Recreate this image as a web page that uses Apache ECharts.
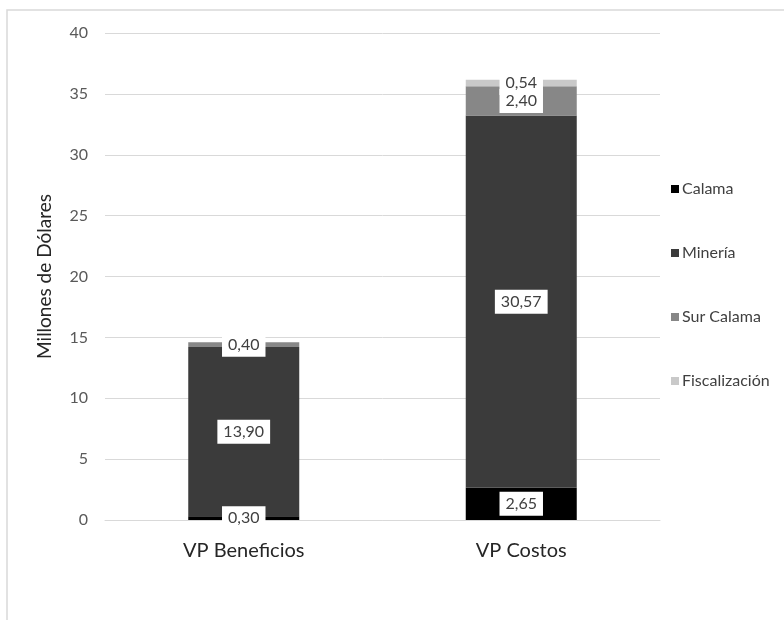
<!DOCTYPE html>
<html>
<head>
<meta charset="utf-8">
<script src="https://cdn.jsdelivr.net/npm/echarts@6/dist/echarts.min.js"></script>
<style>
html,body{margin:0;padding:0;background:#fff;}
#chart{width:784px;height:620px;}
</style>
</head>
<body>
<div id="chart"></div>
<script>
const categories = ['VP Beneficios', 'VP Costos'];
const seriesNames = ['Calama', 'Minería', 'Sur Calama', 'Fiscalización'];
const calama = [0.30, 2.65];
const mineria = [13.90, 30.57];
const surCalama = [0.40, 2.40];
const fiscalizacion = [0, 0.54];
const yTicks = [0, 5, 10, 15, 20, 25, 30, 35, 40];

const colors = ['#000000', '#3b3b3b', '#878787', '#c9c9c9'];
const dataSets = [calama, mineria, surCalama, fiscalizacion];
const font = 'Lato, "Open Sans", sans-serif';

const chart = echarts.init(document.getElementById('chart'));
chart.setOption({
  animation: false,
  graphic: [{
    type: 'rect',
    shape: { x: 7, y: 10, width: 800, height: 640 },
    style: { fill: 'none', stroke: '#d9d9d9', lineWidth: 1.5 },
    silent: true, z: -1
  }],
  legend: {
    orient: 'vertical',
    left: 666,
    top: 176,
    itemGap: 48,
    itemWidth: 8,
    itemHeight: 8,
    icon: 'rect',
    data: seriesNames,
    textStyle: { fontFamily: font, fontSize: 16, color: '#404040', padding: [0, 0, 0, -2] }
  },
  grid: { left: 105, right: 124, top: 33, bottom: 100, containLabel: false },
  xAxis: {
    type: 'category',
    data: categories,
    axisLine: { lineStyle: { color: '#d9d9d9', width: 1 } },
    axisTick: { show: false },
    axisLabel: { fontFamily: font, fontSize: 20, color: '#262626', margin: 21 }
  },
  yAxis: {
    type: 'value',
    min: yTicks[0],
    max: yTicks[yTicks.length - 1],
    interval: 5,
    name: 'Millones de Dólares',
    nameLocation: 'middle',
    nameGap: 51,
    nameTextStyle: { fontFamily: font, fontSize: 19, color: '#262626' },
    axisLine: { show: false },
    axisTick: { show: false },
    splitLine: { lineStyle: { color: '#d9d9d9' } },
    axisLabel: { fontFamily: font, fontSize: 16, color: '#595959', margin: 17 }
  },
  series: seriesNames.map((name, i) => ({
    name: name,
    type: 'bar',
    stack: 'total',
    barWidth: '40%',
    itemStyle: { color: colors[i] },
    data: dataSets[i].map(v => v > 0 ? v : { value: v, label: { show: false } }),
    label: {
      show: true,
      position: 'inside',
      fontFamily: font,
      fontSize: 16,
      color: '#404040',
      backgroundColor: '#ffffff',
      padding: [4, 6, 4, 6],
      formatter: p => p.value.toFixed(2).replace('.', ',')
    },
    labelLayout: { hideOverlap: false }
  }))
});
</script>
</body>
</html>
